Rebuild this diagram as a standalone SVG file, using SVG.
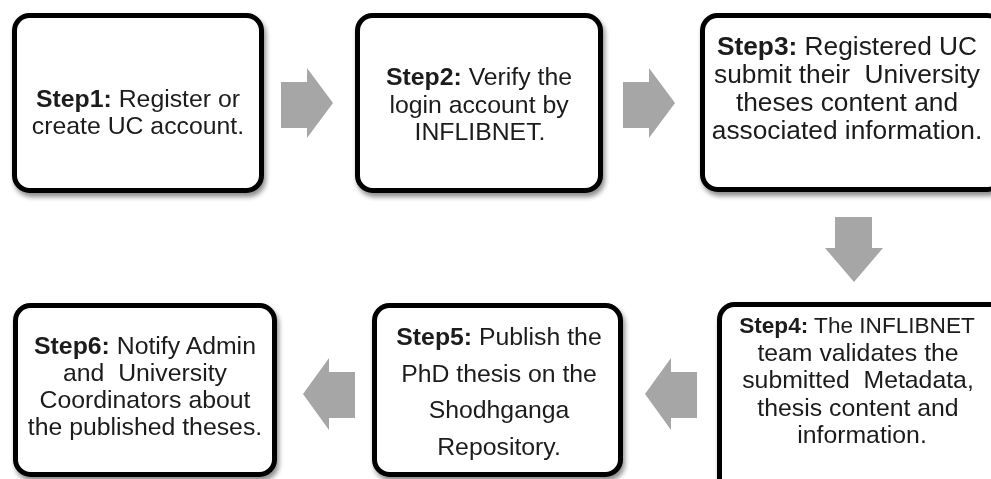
<svg xmlns="http://www.w3.org/2000/svg" width="991" height="479" viewBox="0 0 991 479">
<style>
.box{fill:#fff;stroke:#000;stroke-width:5}
.t{font-family:"Liberation Sans",Arial,sans-serif;font-size:24.8px;fill:#1a1a1a;text-anchor:middle;white-space:pre}
.big{font-size:26.3px}
.sm{font-size:22.6px}
.b{font-weight:bold}
.arr{fill:#a6a6a6;filter:url(#soft)}
</style>
<defs>
<filter id="sh" x="-10%" y="-10%" width="130%" height="130%">
<feGaussianBlur in="SourceAlpha" stdDeviation="2.5"/>
<feOffset dx="2" dy="4" result="o"/>
<feComponentTransfer><feFuncA type="linear" slope="0.45"/></feComponentTransfer>
<feMerge><feMergeNode/><feMergeNode in="SourceGraphic"/></feMerge>
</filter>
<filter id="soft"><feGaussianBlur stdDeviation="0.6"/></filter>
</defs>
<rect width="991" height="479" fill="#fff"/>
<g id="connectors">
<polygon class="arr" points="281,82 307,82 307,68 333,103 307,138 307,128 281,128"/>
<polygon class="arr" points="623,82 649,82 649,68 675,103 649,138 649,128 623,128"/>
<polygon class="arr" points="835,217 872,217 872,248 883,248 854,282 825,248 835,248"/>
<polygon class="arr" points="303,394 329,358 329,372 355,372 355,418 329,418 329,430"/>
<polygon class="arr" points="645,394 671,358 671,372 697,372 697,418 671,418 671,430"/>
</g>
<g id="step1" filter="url(#sh)">
<rect class="box" x="14.5" y="15.5" width="247" height="175" rx="15"/>
<text class="t" x="138" y="107"><tspan class="b">Step1:</tspan> Register or</text>
<text class="t" x="138" y="134">create UC account.</text>
</g>
<g id="step2" filter="url(#sh)">
<rect class="box" x="357.5" y="15.5" width="243" height="175" rx="15"/>
<text class="t" x="479" y="85"><tspan class="b">Step2:</tspan> Verify the</text>
<text class="t" x="479" y="112.5">login account by</text>
<text class="t" x="480" y="140">INFLIBNET.</text>
</g>
<g id="step3" filter="url(#sh)">
<rect class="box" x="702.5" y="15.5" width="300" height="174" rx="15"/>
<text class="t big" x="847" y="55"><tspan class="b">Step3:</tspan> Registered UC</text>
<text class="t big" x="847" y="83">submit their  University</text>
<text class="t big" x="847" y="111">theses content and</text>
<text class="t big" x="847" y="139">associated information.</text>
</g>
<g id="step4" filter="url(#sh)">
<rect class="box" x="719.5" y="304.5" width="300" height="200" rx="15"/>
<text class="t sm" x="857" y="333"><tspan class="b">Step4:</tspan> The INFLIBNET</text>
<text class="t" x="858" y="360.5">team validates the</text>
<text class="t" x="858" y="388">submitted  Metadata,</text>
<text class="t" x="858" y="415.5">thesis content and</text>
<text class="t" x="862" y="443">information.</text>
</g>
<g id="step5" filter="url(#sh)">
<rect class="box" x="374.5" y="305.5" width="246" height="169" rx="15"/>
<text class="t" x="499" y="345"><tspan class="b">Step5:</tspan> Publish the</text>
<text class="t" x="499" y="382">PhD thesis on the</text>
<text class="t" x="499" y="418">Shodhganga</text>
<text class="t" x="499" y="455">Repository.</text>
</g>
<g id="step6" filter="url(#sh)">
<rect class="box" x="15.5" y="305.5" width="259" height="169" rx="15"/>
<text class="t" x="145" y="354"><tspan class="b">Step6:</tspan> Notify Admin</text>
<text class="t" x="145" y="381">and  University</text>
<text class="t" x="145" y="408">Coordinators about</text>
<text class="t" x="145" y="435">the published theses.</text>
</g>
</svg>
